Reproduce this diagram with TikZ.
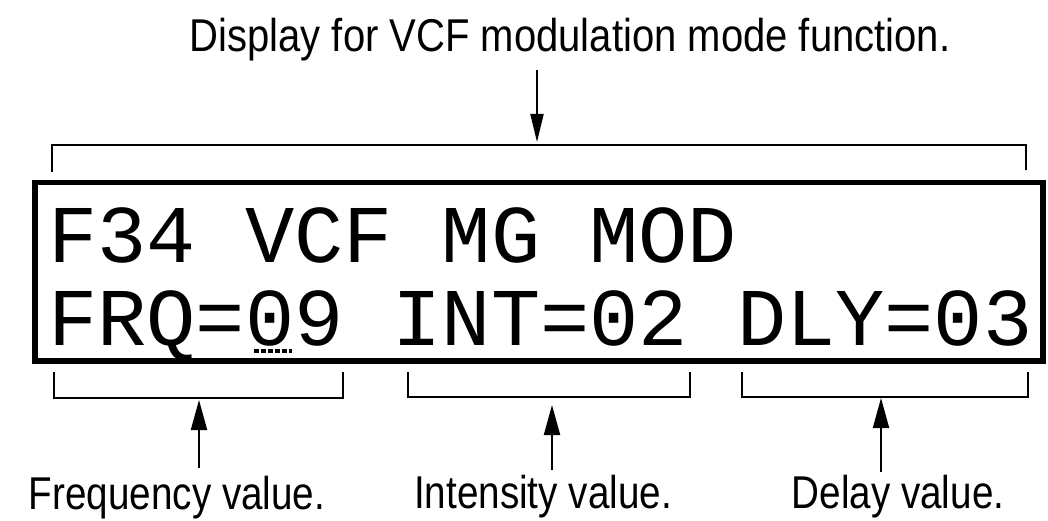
\documentclass[tikz,border=0pt]{standalone}
\usepackage{fontspec}
\setmainfont{Liberation Sans}
\newfontfamily\lcdfont{Liberation Mono}
\usetikzlibrary{arrows.meta}
\newcommand{\cond}[2][0.84]{\scalebox{#1}[1]{#2}}
\tikzset{
  lbl/.style={inner sep=0pt, anchor=base, font=\fontsize{46}{46}\selectfont},
  lcd/.style={inner sep=0pt, anchor=base west, font=\lcdfont\fontsize{82}{82}\selectfont},
  brk/.style={line width=2pt},
  arr/.style={line width=2pt, -{Triangle[length=28pt,width=13pt]}},
  arrb/.style={line width=2pt, -{Triangle[length=30pt,width=16pt]}},
  frame/.style={line width=5.5pt}
}
\begin{document}
\begin{tikzpicture}[x=1pt,y=-1pt]
\useasboundingbox (0,0) rectangle (1048,521);
% title
\node[lbl] (title) at (570,52) {\cond[0.87]{Display for VCF modulation mode function.}};
\coordinate (tTail) at (537,70);
\coordinate (tTip) at (537,142);
\draw[arr] (tTail) -- (tTip);
% top bracket
\draw[brk] (52,172) -- (52,145) -- (1026,145) -- (1026,170);
% display box
\node[frame, draw, minimum width=1008pt, minimum height=178.5pt, inner sep=0pt] (box) at (539,271.75) {};
\node[lcd] (lcdA) at (48,262) {F34 VCF MG MOD};
\node[lcd] (lcdB) at (48,345) {FRQ=09 INT=02 DLY=03};
\draw[line width=4pt, dash pattern=on 5pt off 2pt] (254,351) -- (292,351);
% lower brackets
\draw[brk] (54,372) -- (54,398) -- (343,398) -- (343,372);
\draw[brk] (408,372) -- (408,397) -- (690,397) -- (690,372);
\draw[brk] (742,372) -- (742,397) -- (1028,397) -- (1028,372);
% labels
\node[lbl] (freq) at (177,509) {\cond{Frequency value.}};
\node[lbl] (inten) at (543,508) {\cond{Intensity value.}};
\node[lbl] (delay) at (898,508) {\cond{Delay value.}};
\coordinate (fTail) at (199,468);
\coordinate (fTip) at (199,400);
\coordinate (iTail) at (552,470);
\coordinate (iTip) at (552,405);
\coordinate (dTail) at (881,472);
\coordinate (dTip) at (881,398);
\draw[arrb] (fTail) -- (fTip);
\draw[arrb] (iTail) -- (iTip);
\draw[arrb] (dTail) -- (dTip);
\end{tikzpicture}
\end{document}
